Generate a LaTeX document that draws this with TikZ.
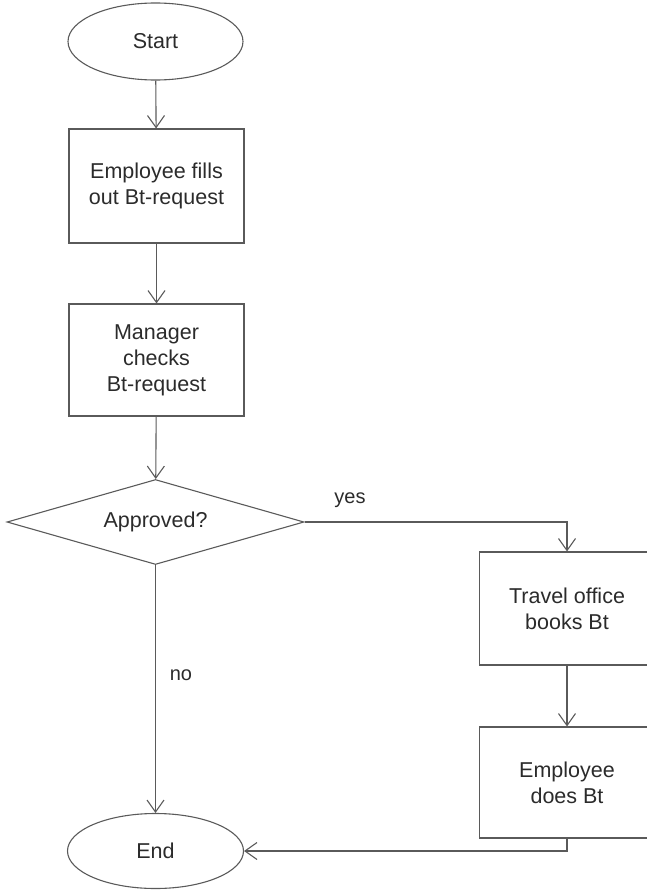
\documentclass[tikz,border=0pt]{standalone}
\usepackage{fontspec}
\setmainfont{Liberation Sans}
\usetikzlibrary{shapes.geometric,arrows.meta}
\definecolor{linegray}{HTML}{5A5A5A}
\definecolor{txtgray}{HTML}{2B2B2B}
\tikzset{
  every node/.style={font=\fontsize{21.5}{26}\selectfont, text=txtgray, align=center},
  term/.style={draw=linegray, line width=1.1pt, ellipse, inner sep=0pt, minimum width=175pt, minimum height=77pt},
  procbox/.style={draw=linegray, line width=1.1pt, rectangle, inner sep=0pt, minimum width=175pt},
  decide/.style={draw=linegray, line width=1.1pt, diamond, inner sep=0pt, minimum width=297pt, minimum height=85pt, aspect=3.5},
  flow/.style={draw=linegray, line width=1.1pt, -{Straight Barb[length=12pt,width=17pt,line width=1.1pt]}},
  lbl/.style={font=\fontsize{20}{24}\selectfont}
}
\begin{document}
\begin{tikzpicture}[x=1pt,y=-1pt]
\useasboundingbox (0,0) rectangle (647,891);
\node[term] (start) at (155.5,41.5) {Start};
\node[procbox, minimum height=114pt] (fill) at (156.5,186) {Employee fills\\out Bt-request};
\node[procbox, minimum height=112pt] (check) at (156.5,360) {Manager\\checks\\Bt-request};
\node[decide] (appr) at (155.5,522) {Approved?};
\node[procbox, minimum height=113pt] (book) at (567,608.5) {Travel office\\books Bt};
\node[procbox, minimum height=111pt] (does) at (567,782.5) {Employee\\does Bt};
\node[term, minimum width=176pt, minimum height=75pt] (end) at (155.5,851) {End};
\coordinate (corner) at (567,522);
\node[lbl] (yes) at (350,500) {yes};
\node[lbl] (no) at (181,675) {no};
\draw[flow] (start) -- (fill);
\draw[flow] (fill) -- (check);
\draw[flow] (check) -- (appr);
\draw[flow] (appr.east) -- (corner) -- (book.north);
\draw[flow] (book) -- (does);
\draw[flow] (appr.south) -- (end.north);
\draw[flow] (does.south) |- (end.east);
\end{tikzpicture}
\end{document}
